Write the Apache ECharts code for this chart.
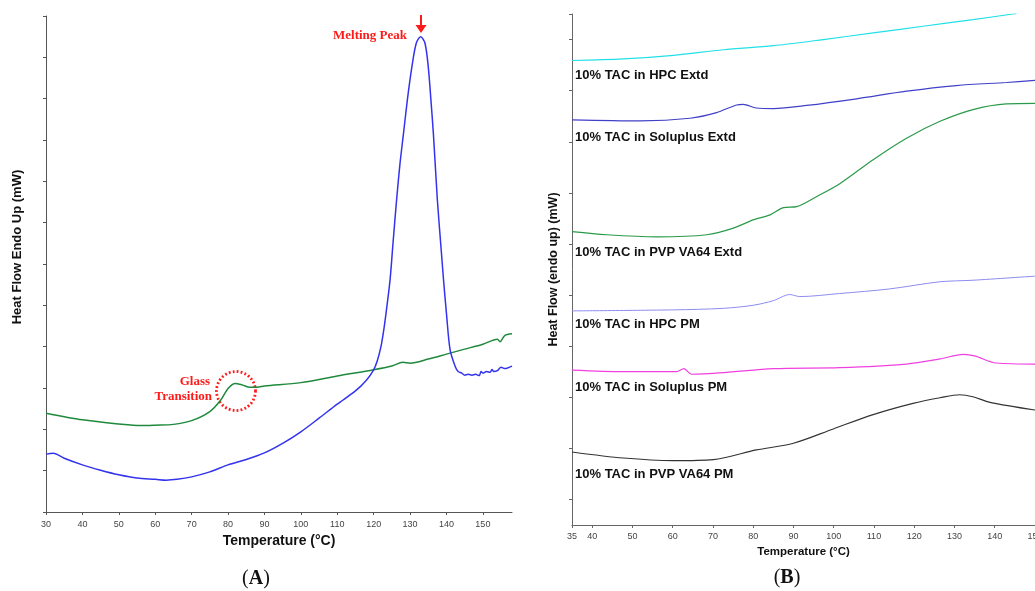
<!DOCTYPE html>
<html><head><meta charset="utf-8">
<script src="https://cdn.jsdelivr.net/npm/echarts@6/dist/echarts.min.js"></script>
<style>html,body{margin:0;padding:0;background:#fff}#c{width:1035px;height:591px}</style>
</head><body><div id="c"></div>
<script>
// ---- Panel A data (Temperature °C, heat flow in tick units) ----
const aXTicks = [30,40,50,60,70,80,90,100,110,120,130,140,150];
const aBlue = [[30,1.40],[32,1.42],[35,1.30],[40,1.14],[45,1.01],[50,0.90],[55,0.82],[60,0.79],[63,0.77],[66,0.79],[70,0.85],[75,0.97],[80,1.14],[85,1.27],[90,1.43],[95,1.66],[100,1.94],[105,2.27],[110,2.61],[115,2.93],[118,3.19],[120,3.44],[121,3.66],[122,4.0],[122.8,4.42],[123.5,4.88],[124.5,5.61],[125.4,6.6],[126.3,7.55],[127.2,8.4],[128.2,9.16],[129.3,10.0],[130.5,10.77],[131.7,11.34],[132.9,11.50],[134.1,11.34],[135,10.77],[135.7,10.0],[136.4,9.16],[137.5,7.55],[138.5,6.4],[139.2,5.61],[140,4.8],[141,3.92],[142.4,3.52],[143.2,3.40],[144.2,3.36],[145,3.31],[146,3.33],[147,3.31],[148,3.33],[149,3.30],[149.5,3.40],[150,3.36],[151,3.40],[152,3.38],[152.5,3.45],[153,3.40],[154,3.42],[155,3.50],[156,3.47],[158,3.53]];
const aGreen = [[30,2.39],[40,2.23],[50,2.13],[56,2.09],[60,2.10],[65,2.12],[70,2.21],[75,2.43],[78,2.71],[80,2.99],[82,3.11],[84,3.07],[86,3.02],[88,3.02],[90,3.05],[100,3.13],[110,3.29],[120,3.44],[125,3.53],[128,3.62],[130,3.60],[135,3.70],[140,3.82],[145,3.94],[150,4.06],[154,4.18],[154.7,4.12],[156,4.27],[158,4.31]];

// ---- Panel B data ----
const bXTicks = [35,40,50,60,70,80,90,100,110,120,130,140,150];
const bYTicks = [0,1,2,3,4,5,6,7,8,9,9.5];
const bHpcExtd = [[35,8.59],[47.8,8.62],[60.2,8.69],[72.6,8.80],[85,8.88],[97.4,9.0],[109.8,9.13],[122.2,9.26],[134.6,9.39],[145.4,9.51]];
const bSolExtd = [[35,7.43],[51.9,7.41],[64.3,7.46],[70.9,7.57],[75.9,7.72],[77.5,7.73],[80.8,7.66],[85,7.65],[93.3,7.71],[105.7,7.84],[118.1,7.99],[130.5,8.10],[142.9,8.16],[150,8.20]];
const bPvpExtd = [[35,5.24],[43.6,5.18],[56.1,5.14],[68.5,5.18],[75.1,5.31],[80,5.47],[84.2,5.57],[87.5,5.71],[90.8,5.73],[95.8,5.93],[101.5,6.18],[109.8,6.65],[118.1,7.07],[126.4,7.40],[134.6,7.63],[142.9,7.74],[150,7.75]];
const bHpcPM = [[35,3.69],[60.2,3.71],[72.6,3.74],[80,3.80],[85,3.89],[89.1,4.01],[91.6,3.97],[101.5,4.03],[113.9,4.12],[126.4,4.26],[134.6,4.29],[150,4.37]];
const bSolPM = [[35,2.53],[47.8,2.50],[61,2.50],[62.8,2.56],[64.7,2.45],[72.6,2.48],[85,2.56],[101.5,2.58],[118.1,2.65],[126.4,2.75],[132.2,2.84],[135,2.81],[140.4,2.67],[150,2.65]];
const bPvpPM = [[35,0.93],[47.8,0.81],[60.2,0.76],[70.1,0.78],[80.8,0.97],[90,1.10],[99.9,1.38],[109.8,1.66],[119.7,1.88],[126.4,1.99],[131.3,2.05],[134.6,2.01],[138.8,1.90],[150,1.75]];
const bLabels = ['10% TAC in HPC Extd','10% TAC in Soluplus Extd','10% TAC in PVP VA64 Extd','10% TAC in HPC PM','10% TAC in Soluplus PM','10% TAC in PVP VA64 PM'];

const chart = echarts.init(document.getElementById('c'), null, {renderer:'canvas'});
const axisCol = '#555';
const sans = 'Liberation Sans, Arial, sans-serif';
function line(x, y, data, color, w){
  return {type:'line', xAxisIndex:x, yAxisIndex:y, data:data, showSymbol:false, symbol:'none',
    smooth:0.3, lineStyle:{color:color, width:w}, silent:true, animation:false};
}
const labelY = [75,137,252,324,387,474];
const graphics = [];
bLabels.forEach((t,i)=>graphics.push({type:'text', x:575, y:labelY[i], style:{text:t, fill:'#111', font:'bold 13px '+sans, verticalAlign:'middle'}}));
graphics.push(
  {type:'text', x:407, y:36, style:{text:'Melting Peak', fill:'#ff1a1a', font:'bold 13px Liberation Serif, Times New Roman, serif', align:'right', verticalAlign:'middle'}},
  {type:'line', shape:{x1:421,y1:15,x2:421,y2:27}, style:{stroke:'#ff1a1a', lineWidth:2}},
  {type:'polygon', shape:{points:[[415.5,25],[426.5,25],[421,33]]}, style:{fill:'#ff1a1a'}},
  {type:'text', x:210, y:382, style:{text:'Glass', fill:'#ff1a1a', font:'bold 13px Liberation Serif, Times New Roman, serif', align:'right', verticalAlign:'middle'}},
  {type:'text', x:212, y:397, style:{text:'Transition', fill:'#ff1a1a', font:'bold 13px Liberation Serif, Times New Roman, serif', align:'right', verticalAlign:'middle'}},
  {type:'circle', shape:{cx:236, cy:391, r:19.5}, style:{fill:null, stroke:'#ff1a1a', lineWidth:2.8, lineDash:[1.8,2.2]}},
  {type:'text', x:256, y:579, style:{text:'{p|(}{b|A}{p|)}', align:'center', verticalAlign:'middle', rich:{p:{font:'20px Liberation Serif, serif', fill:'#111'}, b:{font:'bold 20px Liberation Serif, serif', fill:'#111'}}}},
  {type:'text', x:787, y:578, style:{text:'{p|(}{b|B}{p|)}', align:'center', verticalAlign:'middle', rich:{p:{font:'20px Liberation Serif, serif', fill:'#111'}, b:{font:'bold 20px Liberation Serif, serif', fill:'#111'}}}}
);

chart.setOption({
  backgroundColor:'#fff',
  animation:false,
  grid:[
    {left:46, top:16, width:466, height:496, outerBoundsMode:'none'},
    {left:572, top:14, right:0, height:511, outerBoundsMode:'none'}
  ],
  xAxis:[
    {type:'value', gridIndex:0, min:30, max:158, name:'Temperature (°C)', nameLocation:'middle', nameGap:18,
     nameTextStyle:{fontFamily:sans, fontWeight:'bold', fontSize:14, color:'#111'},
     axisLine:{onZero:false, lineStyle:{color:axisCol}}, axisTick:{customValues:aXTicks, length:3, lineStyle:{color:axisCol}},
     axisLabel:{customValues:aXTicks, fontFamily:sans, fontSize:9, color:'#444', margin:8}, splitLine:{show:false}},
    {type:'value', gridIndex:1, min:35, max:150, name:'Temperature (°C)', nameLocation:'middle', nameGap:17,
     nameTextStyle:{fontFamily:sans, fontWeight:'bold', fontSize:11.5, color:'#111'},
     axisLine:{onZero:false, lineStyle:{color:'#666'}}, axisTick:{customValues:bXTicks, length:3, lineStyle:{color:'#666'}},
     axisLabel:{customValues:bXTicks, fontFamily:sans, fontSize:9, color:'#444', margin:7, hideOverlap:false}, splitLine:{show:false}}
  ],
  yAxis:[
    {type:'value', gridIndex:0, min:0, max:12, interval:1, name:'Heat Flow Endo Up (mW)', nameLocation:'middle', nameGap:22, nameRotate:90,
     nameTextStyle:{fontFamily:sans, fontWeight:'bold', fontSize:13, color:'#111', padding:[0,0,0,34]},
     axisLine:{show:true, onZero:false, lineStyle:{color:axisCol}}, axisTick:{show:true, length:3, lineStyle:{color:axisCol}},
     axisLabel:{show:false}, splitLine:{show:false}},
    {type:'value', gridIndex:1, min:-0.5, max:9.5, name:'Heat Flow (endo up) (mW)', nameLocation:'middle', nameGap:12, nameRotate:90,
     nameTextStyle:{fontFamily:sans, fontWeight:'bold', fontSize:12.5, color:'#111'},
     axisLine:{show:true, onZero:false, lineStyle:{color:'#666'}}, axisTick:{show:true, customValues:bYTicks, length:3, lineStyle:{color:'#666'}},
     axisLabel:{show:false, customValues:bYTicks}, splitLine:{show:false}}
  ],
  series:[
    line(0,0,aGreen,'#1f8a3c',1.5),
    line(0,0,aBlue,'#3333ee',1.5),
    line(1,1,bHpcExtd,'#22e0e8',1.2),
    line(1,1,bSolExtd,'#4040c8',1.2),
    line(1,1,bPvpExtd,'#2a9a4a',1.2),
    line(1,1,bHpcPM,'#8c8cee',1.0),
    line(1,1,bSolPM,'#f040e0',1.2),
    line(1,1,bPvpPM,'#333333',1.1)
  ],
  graphic:graphics
});
</script></body></html>
